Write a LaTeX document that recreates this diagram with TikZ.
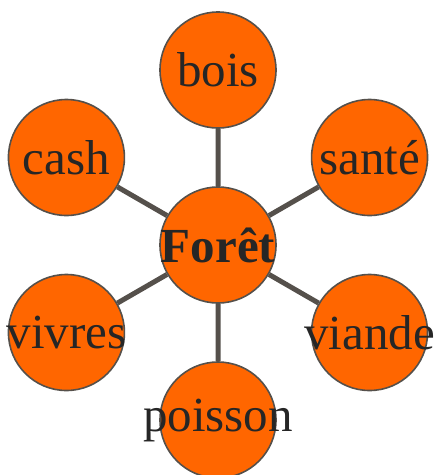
\documentclass[tikz,border=0pt]{standalone}
\usepackage{fontspec}
\setmainfont{Liberation Serif}
\usetikzlibrary{calc}
\definecolor{orangeforet}{RGB}{255,102,0}
\definecolor{grisbord}{RGB}{85,80,75}
\tikzset{
  bulle/.style={circle, draw=grisbord, line width=1.6pt, fill=orangeforet, minimum size=116pt, inner sep=0pt},
  lien/.style={draw=grisbord, line width=5pt}
}
\begin{document}
\begin{tikzpicture}[x=1pt, y=1pt, font=\fontsize{49}{52}\selectfont, line join=round]
	\useasboundingbox (0,0) rectangle (434,-475);
	\def\r{175}
	\node[bulle, label={[text=black!85]center:\textbf{Forêt}}] (foret) at (218,-245) {};
	\node[bulle, label={[text=black!85]center:bois}] (bois) at ($(foret)+(90:\r)$) {};
	\node[bulle, label={[text=black!85]center:santé}] (sante) at ($(foret)+(30:\r)$) {};
	\node[bulle, label={[text=black!85]center:viande}] (viande) at ($(foret)+(-30:\r)$) {};
	\node[bulle, label={[text=black!85]center:poisson}] (poisson) at ($(foret)+(-90:\r)$) {};
	\node[bulle, label={[text=black!85]center:vivres}] (vivres) at ($(foret)+(210:\r)$) {};
	\node[bulle, label={[text=black!85]center:cash}] (cash) at ($(foret)+(150:\r)$) {};
	\draw[lien] (foret)--(bois) (foret)--(sante) (foret)--(viande) (foret)--(poisson) (foret)--(vivres) (foret)--(cash);
\end{tikzpicture}
\end{document}
